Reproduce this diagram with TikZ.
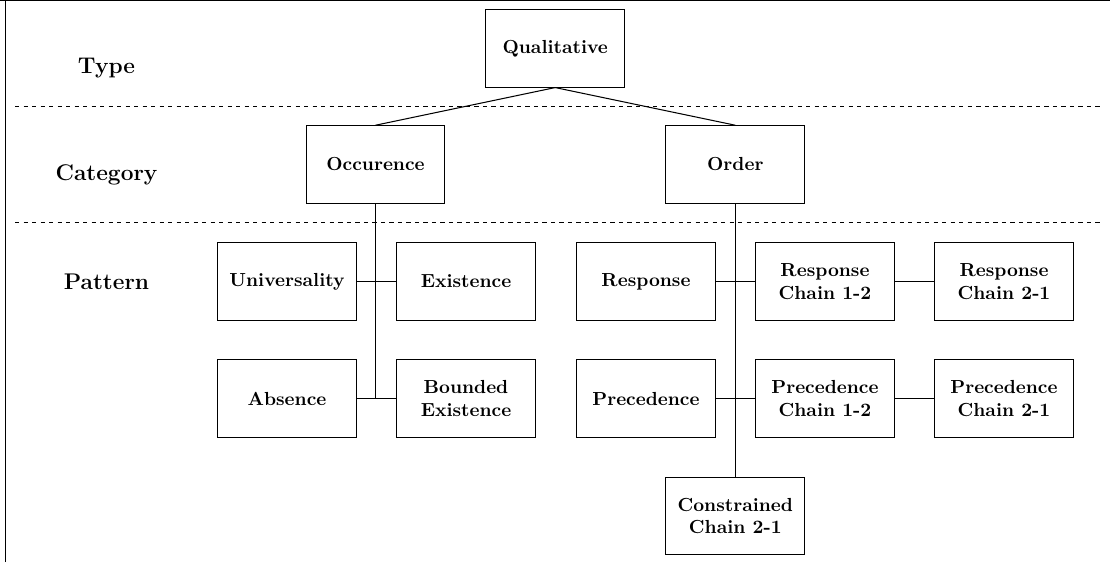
\documentclass[tikz,border=0pt]{standalone}
\begin{document}
\begin{tikzpicture}[x=0.529pt,y=-0.529pt,
  box/.style={draw,line width=0.55pt,minimum width=73.4pt,minimum height=41pt,inner sep=2pt,align=center,font=\bfseries},
  lay/.style={font=\large\bfseries,anchor=base},
  sep/.style={dash pattern=on 2.25pt off 2.25pt,line width=0.5pt},
  link/.style={line width=0.55pt}]
\useasboundingbox (0,0) rectangle (1110,562);
% frame
\coordinate (ftl) at (5.7,0.6);
\coordinate (ftr) at (1110,0.6);
\coordinate (fbl) at (5.7,562);
\draw[line width=0.6pt] (fbl) -- (ftl) -- (ftr);
\draw[line width=0.6pt] (0,0.6) -- (ftl);
% layer separators
\coordinate (s1a) at (15,106.7);
\coordinate (s1b) at (1102,106.7);
\coordinate (s2a) at (15,222);
\coordinate (s2b) at (1102,222);
\draw[sep] (s1a) -- (s1b);
\draw[sep] (s2a) -- (s2b);
% layer labels
\node[lay] (ltype) at (106.5,74) {Type};
\node[lay] (lcat) at (106.5,180.7) {Category};
\node[lay] (lpat) at (106.5,289) {Pattern};
% boxes
\node[box] (qual) at (555.2,48.3) {Qualitative};
\node[box] (occ) at (375.5,164.5) {Occurence};
\node[box] (ord) at (735.3,164.5) {Order};
\node[box] (univ) at (287,281.4) {Universality};
\node[box] (exist) at (466,281.4) {Existence};
\node[box] (abs) at (287,398.6) {Absence};
\node[box] (bexist) at (466,398.6) {Bounded\\Existence};
\node[box] (resp) at (646,281.4) {Response};
\node[box] (rc12) at (825,281.4) {Response\\Chain 1-2};
\node[box] (rc21) at (1004,281.4) {Response\\Chain 2-1};
\node[box] (prec) at (646,398.6) {Precedence};
\node[box] (pc12) at (825,398.6) {Precedence\\Chain 1-2};
\node[box] (pc21) at (1004,398.6) {Precedence\\Chain 2-1};
\node[box] (cons) at (735.3,515.9) {Constrained\\Chain 2-1};
% connectors
\draw[link] (qual.south) -- (occ.north);
\draw[link] (qual.south) -- (ord.north);
\draw[link] (occ.south) -- (occ.south |- abs.east);
\draw[link] (univ.east) -- (exist.west);
\draw[link] (abs.east) -- (bexist.west);
\draw[link] (ord.south) -- (cons.north);
\draw[link] (resp.east) -- (rc12.west);
\draw[link] (prec.east) -- (pc12.west);
\draw[link] (rc12.east) -- (rc21.west);
\draw[link] (pc12.east) -- (pc21.west);
\end{tikzpicture}
\end{document}
